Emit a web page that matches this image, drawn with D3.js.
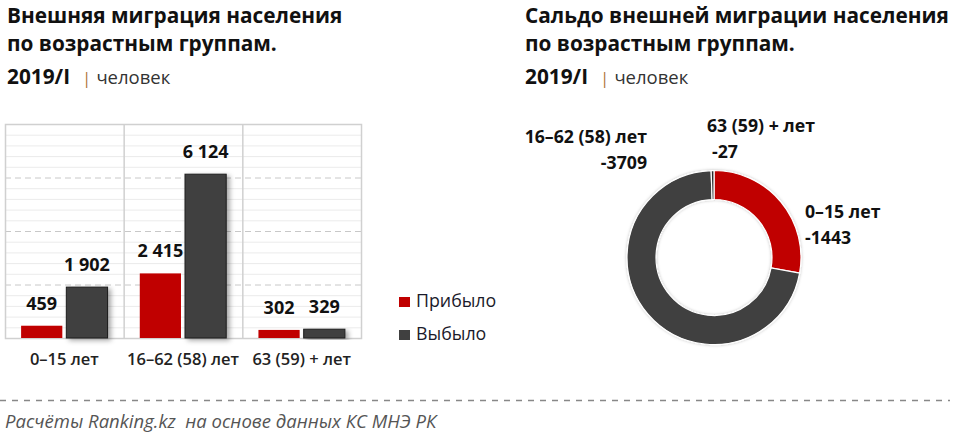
<!DOCTYPE html>
<html><head><meta charset="utf-8">
<script src="https://cdn.jsdelivr.net/npm/d3@7"></script>
<style>
html,body{margin:0;padding:0;background:#fff;}
svg{display:block;}
text{font-family:"Open Sans",sans-serif;}
</style></head>
<body>
<svg id="c" width="960" height="438"></svg>
<script>
// ---- data ----
const categories = ["0–15 лет", "16–62 (58) лет", "63 (59) + лет"];
const seriesNames = ["Прибыло", "Выбыло"];
const arrived = [459, 2415, 302];
const departed = [1902, 6124, 329];
const yTicks = [0, 2000, 4000, 6000, 8000];
const saldoLabels = ["0–15 лет", "16–62 (58) лет", "63 (59) + лет"];
const saldoValues = [-1443, -3709, -27];
const leftTitle = ["Внешняя миграция населения", "по возрастным группам."];
const rightTitle = ["Сальдо внешней миграции населения", "по возрастным группам."];
const period = "2019/I";
const unit = "человек";
const source = "Расчёты Ranking.kz  на основе данных КС МНЭ РК";

// ---- style ----
const RED = "#c00000", DARK = "#404040";
const colors = [RED, DARK];
const svg = d3.select("#c");
const defs = svg.append("defs");
const sh = defs.append("filter").attr("id","sh").attr("x","-20%").attr("y","-10%").attr("width","160%").attr("height","130%");
sh.append("feDropShadow").attr("dx",3).attr("dy",2).attr("stdDeviation",2.5).attr("flood-color","#000").attr("flood-opacity",0.35);
const sh2 = defs.append("filter").attr("id","sh2").attr("x","-20%").attr("y","-20%").attr("width","140%").attr("height","140%");
sh2.append("feDropShadow").attr("dx",0).attr("dy",0).attr("stdDeviation",1.5).attr("flood-color","#000").attr("flood-opacity",0.25);

// ---- titles ----
function title(x, lines) {
  lines.forEach((t,i)=>{
    svg.append("text").attr("x",x).attr("y",23+i*28).attr("font-size",20.8).attr("font-weight",700)
      .attr("fill","#111").text(t);
  });
  const t3 = svg.append("text").attr("x",x).attr("y",84).attr("font-size",20.8).attr("font-weight",700).attr("fill","#111");
  t3.append("tspan").text(period);
  t3.append("tspan").attr("dx",12).attr("font-size",17).attr("font-weight",400).attr("fill","#b07840").text("|");
  t3.append("tspan").attr("dx",5).attr("font-size",18.5).attr("font-weight",400).attr("fill","#333").text(unit);
}
title(7, leftTitle);
title(525, rightTitle);

// ---- bar chart ----
const plot = {x0:5, x1:361, yTop:124, yBottom:338};
const y = d3.scaleLinear().domain([0, 8000]).range([plot.yBottom, plot.yTop]);
const x = d3.scaleBand().domain(categories).range([plot.x0, plot.x1]);
const xs = d3.scaleBand().domain(seriesNames).range([0, x.bandwidth()]).paddingInner(0.089).paddingOuter(0.356);

const g = svg.append("g");
// minor gridlines
const minor = d3.range(0, 8000, 400).filter(v => v % 2000 !== 0);
g.selectAll("line.minor").data(minor).join("line")
  .attr("x1",plot.x0).attr("x2",plot.x1).attr("y1",d=>y(d)+0.5).attr("y2",d=>y(d)+0.5)
  .attr("stroke","#ebebeb").attr("stroke-width",1);
// major dashed gridlines
g.selectAll("line.major").data(yTicks.filter(v=>v>0 && v<8000)).join("line")
  .attr("x1",plot.x0).attr("x2",plot.x1).attr("y1",d=>y(d)+0.5).attr("y2",d=>y(d)+0.5)
  .attr("stroke","#c8c8c8").attr("stroke-width",1).attr("stroke-dasharray","6,4");
// frame & separators
g.append("rect").attr("x",plot.x0+0.5).attr("y",plot.yTop+0.5).attr("width",plot.x1-plot.x0).attr("height",plot.yBottom-plot.yTop)
  .attr("fill","none").attr("stroke","#d0d0d0").attr("stroke-width",1.5);
g.selectAll("line.sep").data(categories.slice(1)).join("line")
  .attr("x1",d=>x(d)+0.5).attr("x2",d=>x(d)+0.5).attr("y1",plot.yTop).attr("y2",plot.yBottom)
  .attr("stroke","#d0d0d0").attr("stroke-width",1.5);

const rows = categories.map((c,i)=>({c, vals:[arrived[i], departed[i]]}));
const grp = g.selectAll("g.grp").data(rows).join("g").attr("transform",d=>`translate(${x(d.c)},0)`);
grp.selectAll("rect").data(d=>d.vals.map((v,j)=>({v,s:seriesNames[j],j}))).join("rect")
  .attr("x",d=>xs(d.s)).attr("width",xs.bandwidth())
  .attr("y",d=>y(d.v)).attr("height",d=>y(0)-y(d.v))
  .attr("fill",d=>colors[d.j])
  .attr("stroke",d=>d.j===1?"#1e1e1e":"none").attr("stroke-width",1)
  .attr("filter",d=>d.j===1?"url(#sh)":null);
const fmt = v => d3.format(",")(v).replace(/,/g," ");
grp.selectAll("text").data(d=>d.vals.map((v,j)=>({v,s:seriesNames[j],j}))).join("text")
  .attr("x",d=>xs(d.s)+xs.bandwidth()/2).attr("y",d=>y(d.v)-16)
  .attr("text-anchor","middle").attr("font-size",18).attr("font-weight",700).attr("fill","#111")
  .text(d=>fmt(d.v));
// category labels
svg.selectAll("text.cat").data(categories).join("text")
  .attr("x",d=>x(d)+x.bandwidth()/2).attr("y",365).attr("text-anchor","middle")
  .attr("font-size",16.5).attr("font-weight",600).attr("fill","#222").text(d=>d);

// legend
const lg = svg.selectAll("g.lg").data(seriesNames).join("g").attr("transform",(d,i)=>`translate(399,${297+i*33})`);
lg.append("rect").attr("width",11).attr("height",10).attr("fill",(d,i)=>colors[i]);
lg.append("text").attr("x",17).attr("y",9.5).attr("font-family","Liberation Sans, Arial, sans-serif")
  .attr("font-size",17.8).attr("fill","#1a1a2a").text(d=>d);

// ---- donut ----
const cx = 714, cy = 257.5, rOut = 87, rIn = 58;
const pie = d3.pie().sort(null).value(d=>Math.abs(d.v));
const arcs = pie(saldoValues.map((v,i)=>({v, label:saldoLabels[i]})));
const arc = d3.arc().innerRadius(rIn).outerRadius(rOut);
const sliceColors = [RED, DARK, "#2a2a2a"];
const dg = svg.append("g").attr("transform",`translate(${cx},${cy})`);
dg.append("g").attr("filter","url(#sh2)").selectAll("path").data(arcs).join("path")
  .attr("d",arc).attr("fill",(d,i)=>sliceColors[i]).attr("stroke","#fff").attr("stroke-width",1.2);
// labels
const labelPos = [
  {x:805, y:218, anchor:"start", dx2:0},
  {x:647, y:143, anchor:"end", dx2:0},
  {x:707, y:132, anchor:"start", dx2:5}
];
arcs.forEach((a,i)=>{
  const p = labelPos[i];
  const t = svg.append("text").attr("font-size",17.7).attr("font-weight",700).attr("fill","#111").attr("text-anchor",p.anchor);
  t.append("tspan").attr("x",p.x).attr("y",p.y).text(a.data.label);
  t.append("tspan").attr("x",p.x+p.dx2).attr("y",p.y+26).text(String(a.data.v));
});

// ---- footer ----
svg.append("line").attr("x1",0).attr("x2",950).attr("y1",400.5).attr("y2",400.5)
  .attr("stroke","#888").attr("stroke-width",1.5).attr("stroke-dasharray","6,6");
svg.append("text").attr("x",5).attr("y",428).attr("font-size",18.5).attr("font-style","italic")
  .attr("fill","#555").attr("xml:space","preserve").style("white-space","pre").text(source);
</script>
</body></html>
